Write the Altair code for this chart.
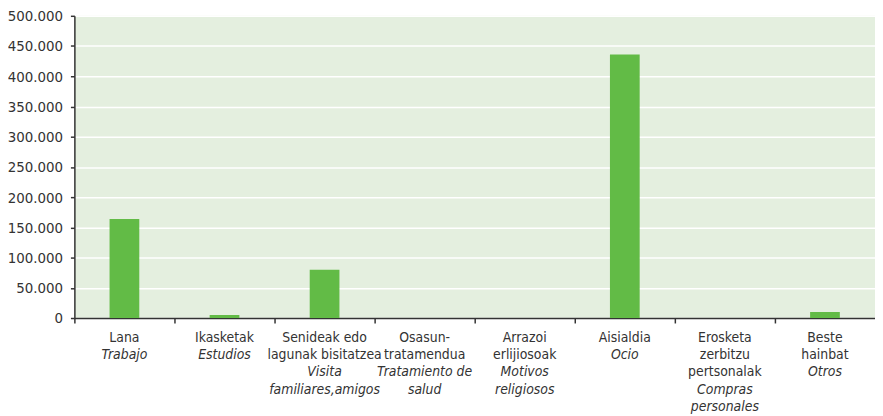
import altair as alt
import pandas as pd

labels_eu = ["Lana", "Ikasketak", "Senideak edo\nlagunak bisitatzea", "Osasun-\ntratamendua",
             "Arrazoi\nerlijiosoak", "Aisialdia", "Erosketa\nzerbitzu\npertsonalak", "Beste\nhainbat"]
labels_es = ["Trabajo", "Estudios", "Visita\nfamiliares,amigos", "Tratamiento de\nsalud",
             "Motivos\nreligiosos", "Ocio", "Compras\npersonales", "Otros"]
values = [164000, 5000, 80000, 0, 0, 436000, 0, 10000]
y_ticks = [0, 50000, 100000, 150000, 200000, 250000, 300000, 350000, 400000, 450000, 500000]

keys = [f"c{i}" for i in range(len(values))]
df = pd.DataFrame({
    "key": keys,
    "value": values,
    "eu": labels_eu,
    "es": labels_es,
    "n_eu": [e.count("\n") + 1 for e in labels_eu],
})

FONT = "DejaVu Sans Condensed, Roboto Condensed, Liberation Sans Narrow, sans-serif"
TXT = "#333333"
LH = 17.5
Y0 = 329

x = alt.X("key:N", sort=keys,
          scale=alt.Scale(paddingInner=0, paddingOuter=0),
          axis=alt.Axis(title=None, labels=False, bandPosition=0, ticks=True, tickSize=5,
                        tickColor="#333333", tickWidth=1.5, domainColor="#333333",
                        domainWidth=1.5, grid=False))

bars = alt.Chart(df).mark_bar(color="#62BB46", width=30).encode(
    x=x,
    y=alt.Y("value:Q",
            scale=alt.Scale(domain=[0, 500000], nice=False),
            axis=alt.Axis(title=None, values=y_ticks,
                          labelExpr="replace(format(datum.value, ','), ',', '.')",
                          labelFont=FONT, labelFontSize=15, labelColor=TXT, labelPadding=8,
                          tickSize=4, tickColor="#333333", tickWidth=1.5,
                          domainColor="#333333", domainWidth=1.5,
                          grid=True, gridColor="#FFFFFF", gridWidth=1.5)),
)

eu_text = alt.Chart(df).mark_text(
    font=FONT, fontSize=14, color=TXT, lineBreak="\n", lineHeight=LH,
    baseline="alphabetic", align="center",
).encode(x=alt.X("key:N", sort=keys), y=alt.value(Y0), text="eu:N")

es_text = alt.Chart(df).mark_text(
    font=FONT, fontSize=14, color=TXT, lineBreak="\n", lineHeight=LH,
    baseline="alphabetic", align="center", fontStyle="italic",
).encode(
    x=alt.X("key:N", sort=keys),
    y=alt.Y("n_eu:Q", scale=alt.Scale(domain=[0, 10], range=[Y0, Y0 + 10 * LH]), axis=None),
    text="es:N",
)

chart = alt.layer(bars, eu_text, es_text).resolve_scale(y="independent").properties(
    width=808, height=305,
    autosize=alt.AutoSizeParams(type="none"),
    padding={"left": 67, "top": 6, "right": 0, "bottom": 97},
).configure_view(fill="#E4EFDF", stroke=None)

chart.save("out.html", embed_options={"renderer": "svg", "actions": False})
